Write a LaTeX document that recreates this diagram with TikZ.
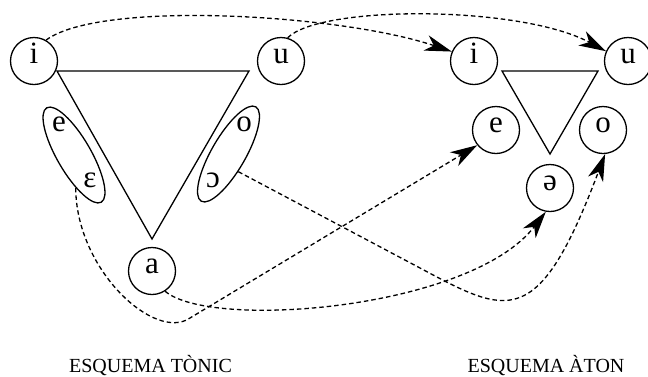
\documentclass[tikz,border=0pt]{standalone}
\usepackage{fontspec}
\setmainfont{Liberation Serif}
\usetikzlibrary{shapes.geometric,arrows.meta}

\tikzset{
  vowel/.style={circle, draw, line width=1.3pt, minimum size=47pt, inner sep=0pt,
                font=\fontsize{31}{31}\selectfont, text height=1ex, text depth=0pt},
  glyph/.style={inner sep=0pt, font=\fontsize{31}{31}\selectfont, text height=1ex, text depth=0pt},
  pair/.style={ellipse, draw, line width=1.3pt, minimum width=109pt, minimum height=34pt, inner sep=0pt},
  tri/.style={line width=1.3pt, line join=miter},
  reduce/.style={dashed, dash pattern=on 4.5pt off 3pt, line width=1.3pt,
                -{Stealth[length=27pt,width=16pt,inset=8pt]}},
  caption/.style={anchor=base, font=\fontsize{20}{20}\selectfont}
}

\begin{document}
\begin{tikzpicture}[x=1pt, y=-1pt]
\useasboundingbox (0,0) rectangle (648,376);

% stressed system
\node[vowel] (li) at (34,61) {i};
\node[vowel] (lu) at (281,61) {u};
\node[vowel] (la) at (152,271) {a};
\draw[tri] (57,71) -- (249,71) -- (152,239) -- cycle;
\node[pair, rotate=-60] (ee) at (74,155) {};
\node[pair, rotate=60] (oo) at (228.5,154) {};
\node[glyph] (le) at (59,129) {e};
\node[glyph] (leo) at (90,185) {ɛ};
\node[glyph] (lo) at (244,129) {o};
\node[glyph] (loo) at (213,185) {ɔ};

% unstressed system
\node[vowel] (ri) at (474,61) {i};
\node[vowel] (ru) at (628,61) {u};
\node[vowel] (re) at (496,130) {e};
\node[vowel] (ro) at (603,130) {o};
\node[vowel] (rs) at (550,188) {ə};
\draw[tri] (502,71) -- (598,71) -- (550,154) -- cycle;

% reductions
\draw[reduce] (li.60) .. controls (100,0) and (340,14) .. (ri.157);
\draw[reduce] (lu.74) .. controls (320,5) and (520,5) .. (ru.156);
\draw[reduce] (ee.-27) .. controls (76,270) and (155,342) .. (190,318) -- (re.219);
\draw[reduce] (oo.-121) -- (420,268) .. controls (508,315) and (538,332) .. (ro.-85);
\draw[reduce] (la.-57) .. controls (210,330) and (470,310) .. (rs.-100);

\node[caption] (ct) at (150.5,372) {ESQUEMA TÒNIC};
\node[caption] (ca) at (546,372) {ESQUEMA ÀTON};
\end{tikzpicture}
\end{document}
